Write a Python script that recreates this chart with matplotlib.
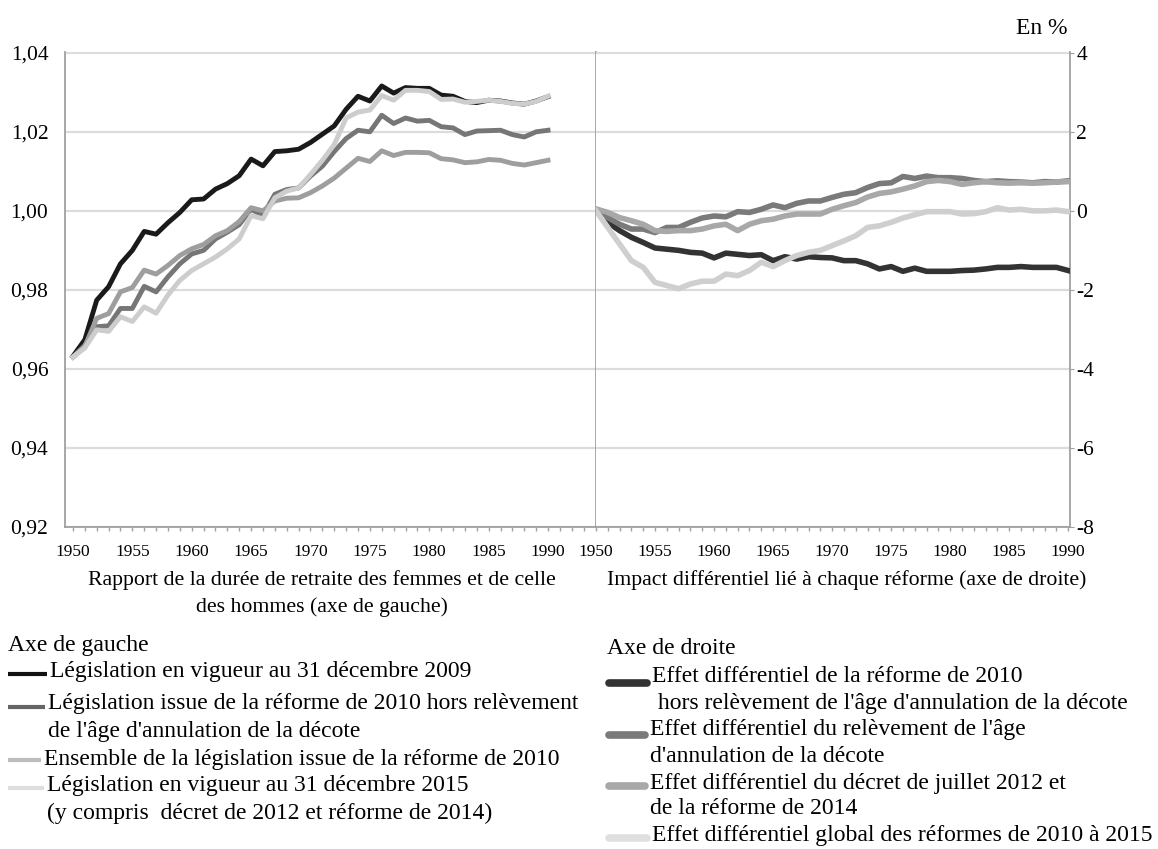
import matplotlib
matplotlib.use("Agg")
import matplotlib.pyplot as plt
from matplotlib.lines import Line2D
from matplotlib.ticker import FixedLocator, FuncFormatter

plt.rcParams['font.family'] = ['Liberation Serif', 'DejaVu Serif']

years = list(range(1950, 1991))

# Left axis: ratio women / men retirement duration
left_2009 = [0.9632, 0.9674, 0.9774, 0.9808, 0.9866, 0.9900, 0.9948, 0.9941, 0.9970, 0.9996, 1.0028,
             1.0030, 1.0055, 1.0069, 1.0089, 1.0131, 1.0114, 1.0150, 1.0152, 1.0156, 1.0173,
             1.0194, 1.0215, 1.0257, 1.0290, 1.0278, 1.0316, 1.0298, 1.0312, 1.0310, 1.0310,
             1.0293, 1.0290, 1.0277, 1.0274, 1.0280, 1.0278, 1.0273, 1.0270, 1.0278, 1.0289]
left_2010_hors = [0.9630, 0.9660, 0.9707, 0.9709, 0.9753, 0.9753, 0.9809, 0.9795, 0.9833, 0.9866, 0.9891,
                  0.9900, 0.9929, 0.9946, 0.9965, 1.0004, 0.9988, 1.0042, 1.0054, 1.0058, 1.0088,
                  1.0113, 1.0150, 1.0183, 1.0204, 1.0200, 1.0242, 1.0221, 1.0235, 1.0227, 1.0229,
                  1.0213, 1.0210, 1.0193, 1.0202, 1.0203, 1.0204, 1.0193, 1.0187, 1.0200, 1.0204]
left_2010_ens = [0.9630, 0.9657, 0.9728, 0.9740, 0.9795, 0.9806, 0.9850, 0.9840, 0.9862, 0.9887, 0.9904,
                 0.9915, 0.9937, 0.9950, 0.9973, 1.0008, 1.0000, 1.0025, 1.0032, 1.0033, 1.0046,
                 1.0063, 1.0083, 1.0108, 1.0133, 1.0125, 1.0152, 1.0140, 1.0148, 1.0148, 1.0147,
                 1.0132, 1.0129, 1.0122, 1.0124, 1.0130, 1.0128, 1.0120, 1.0116, 1.0122, 1.0128]
left_2015 = [0.9630, 0.9653, 0.9699, 0.9695, 0.9732, 0.9720, 0.9757, 0.9741, 0.9787, 0.9824, 0.9849,
             0.9866, 0.9883, 0.9904, 0.9929, 0.9988, 0.9980, 1.0033, 1.0050, 1.0058, 1.0092,
             1.0128, 1.0168, 1.0235, 1.0250, 1.0255, 1.0292, 1.0280, 1.0305, 1.0305, 1.0302,
             1.0282, 1.0283, 1.0275, 1.0277, 1.0280, 1.0277, 1.0272, 1.0270, 1.0277, 1.0290]

# Right axis: differential impact (%)
right_hors = [0, -0.29, -0.50, -0.67, -0.80, -0.94, -0.97, -1.00, -1.05, -1.07, -1.19,
              -1.07, -1.10, -1.13, -1.11, -1.26, -1.16, -1.22, -1.16, -1.18, -1.19,
              -1.26, -1.26, -1.34, -1.47, -1.41, -1.53, -1.45, -1.53, -1.53, -1.53,
              -1.51, -1.50, -1.47, -1.43, -1.43, -1.41, -1.43, -1.43, -1.43, -1.51]
right_relev = [0, -0.17, -0.34, -0.46, -0.46, -0.55, -0.42, -0.42, -0.29, -0.18, -0.13,
               -0.15, -0.02, -0.04, 0.04, 0.15, 0.08, 0.19, 0.25, 0.25, 0.34,
               0.42, 0.46, 0.59, 0.69, 0.71, 0.87, 0.82, 0.88, 0.84, 0.84,
               0.82, 0.77, 0.74, 0.76, 0.74, 0.73, 0.71, 0.74, 0.73, 0.76]
right_decret = [0.05, -0.04, -0.17, -0.25, -0.34, -0.50, -0.52, -0.50, -0.50, -0.46, -0.38,
                -0.34, -0.50, -0.34, -0.25, -0.21, -0.13, -0.08, -0.08, -0.08, 0.04,
                0.13, 0.21, 0.35, 0.44, 0.48, 0.55, 0.63, 0.74, 0.77, 0.74,
                0.67, 0.71, 0.74, 0.71, 0.70, 0.71, 0.70, 0.71, 0.73, 0.74]
right_global = [0, -0.42, -0.84, -1.26, -1.43, -1.81, -1.89, -1.97, -1.85, -1.78, -1.78,
                -1.60, -1.64, -1.51, -1.30, -1.41, -1.26, -1.13, -1.05, -1.00, -0.88,
                -0.76, -0.63, -0.42, -0.38, -0.29, -0.18, -0.10, -0.02, -0.02, -0.02,
                -0.08, -0.07, -0.02, 0.08, 0.02, 0.04, 0.00, 0.00, 0.02, -0.02]

left_labels = ["Législation en vigueur au 31 décembre 2009",
               "Législation issue de la réforme de 2010 hors relèvement\nde l'âge d'annulation de la décote",
               "Ensemble de la législation issue de la réforme de 2010",
               "Législation en vigueur au 31 décembre 2015\n(y compris  décret de 2012 et réforme de 2014)"]
right_labels = ["Effet différentiel de la réforme de 2010\n hors relèvement de l'âge d'annulation de la décote",
                "Effet différentiel du relèvement de l'âge\nd'annulation de la décote",
                "Effet différentiel du décret de juillet 2012 et\nde la réforme de 2014",
                "Effet différentiel global des réformes de 2010 à 2015"]

W, H = 1158, 849
fig = plt.figure(figsize=(W / 100, H / 100), dpi=100)

def fx(x):
    return x / W

def fy(y):
    return 1 - y / H

ax1 = fig.add_axes([fx(65), fy(527), (596 - 65) / W, (527 - 52) / H])
ax2 = fig.add_axes([fx(596), fy(527), (1070 - 596) / W, (527 - 52) / H])

spine_c = '#a0a0a0'
grid_c = '#dcdcdc'

# Left panel
lc = ['#1a1a1a', '#767676', '#9e9e9e', '#cdcdcd']
for data, c in zip([left_2009, left_2010_hors, left_2010_ens, left_2015], lc):
    ax1.plot(years, data, color=c, lw=3.5, solid_joinstyle='round', zorder=3)
ax1.set_xlim(1949.33, 1994.04)
ax1.set_ylim(0.92, 1.0402)
ax1.yaxis.set_major_locator(FixedLocator([0.92, 0.94, 0.96, 0.98, 1.00, 1.02, 1.04]))
ax1.yaxis.set_major_formatter(FuncFormatter(lambda v, p: f"{v:.2f}".replace('.', ',')))
ax1.grid(axis='y', color=grid_c, lw=1.6, zorder=0)
ax1.xaxis.set_major_locator(FixedLocator(list(range(1950, 1991, 5))))
ax1.xaxis.set_minor_locator(FixedLocator(list(range(1950, 1994))))
ax1.xaxis.set_major_formatter(FuncFormatter(lambda v, p: f"{int(v)}"))

# Right panel
rc = ['#333333', '#7a7a7a', '#a8a8a8', '#cfcfcf']
for data, c in zip([right_hors, right_relev, right_decret, right_global], rc):
    ax2.plot(years, data, color=c, lw=4.0, solid_joinstyle='round', zorder=3)
ax2.set_xlim(1950, 1990.15)
ax2.set_ylim(-8, 4.02)
ax2.yaxis.tick_right()
ax2.yaxis.set_major_locator(FixedLocator([-8, -6, -4, -2, 0, 2, 4]))
ax2.yaxis.set_major_formatter(FuncFormatter(lambda v, p: f"{int(round(v))}"))
ax2.grid(axis='y', color=grid_c, lw=1.6, zorder=0)
ax2.xaxis.set_major_locator(FixedLocator(list(range(1950, 1991, 5))))
ax2.xaxis.set_minor_locator(FixedLocator(list(range(1950, 1991))))
ax2.xaxis.set_major_formatter(FuncFormatter(lambda v, p: f"{int(v)}"))

for ax in (ax1, ax2):
    ax.spines['top'].set_visible(False)
    for s in ('left', 'right', 'bottom'):
        ax.spines[s].set_color(spine_c)
        ax.spines[s].set_linewidth(1.3)
    ax.tick_params(axis='x', which='both', direction='out', length=3, color=spine_c,
                   labelsize=12.5, pad=9, width=1)
ax2.spines['left'].set_visible(False)
ax1.tick_params(axis='y', length=0, labelsize=15.5, pad=12)
ax2.tick_params(axis='y', length=3, color=spine_c, labelsize=15.5, pad=1.5)

fig.text(fx(1068), fy(28), "En %", fontsize=17, ha='right', va='center')

# Panel captions
cfs = 15.7
fig.text(fx(322), fy(580), "Rapport de la durée de retraite des femmes et de celle",
         fontsize=cfs, ha='center', va='center')
fig.text(fx(322), fy(607), "des hommes (axe de gauche)", fontsize=cfs, ha='center', va='center')
fig.text(fx(847), fy(580), "Impact différentiel lié à chaque réforme (axe de droite)",
         fontsize=cfs, ha='center', va='center')

lfs = 17

def legend_row(x0, x1, yh, tx, ylines, label, color, lw, cap):
    fig.add_artist(Line2D([fx(x0), fx(x1)], [fy(yh), fy(yh)], color=color, lw=lw,
                          solid_capstyle=cap, transform=fig.transFigure))
    for yl, part in zip(ylines, label.split('\n')):
        fig.text(fx(tx), fy(yl), part, fontsize=lfs, ha='left', va='center')

# Left legend
fig.text(fx(8), fy(645), "Axe de gauche", fontsize=lfs, ha='left', va='center')
leg_lc = ['#111111', '#666666', '#bdbdbd', '#dedede']
rows_left = [(674, 50, [672]), (707, 48, [704, 731]), (760, 44, [759]), (788, 47, [786, 813])]
for (yh, tx, yl), c, lab in zip(rows_left, leg_lc, left_labels):
    legend_row(8, tx - 3, yh, tx, yl, lab, c, 3, 'butt')

# Right legend
fig.text(fx(607), fy(648), "Axe de droite", fontsize=lfs, ha='left', va='center')
leg_rc = ['#333333', '#7a7a7a', '#a8a8a8', '#e0e0e0']
rows_right = [(683, 652, [677, 704]), (735, 650, [730, 757]), (786, 650, [783, 809]), (838, 652, [836])]
for (yh, tx, yl), c, lab in zip(rows_right, leg_rc, right_labels):
    legend_row(609, tx - 5, yh, tx, yl, lab, c, 5.5, 'round')

fig.savefig("out.png", dpi=100)
